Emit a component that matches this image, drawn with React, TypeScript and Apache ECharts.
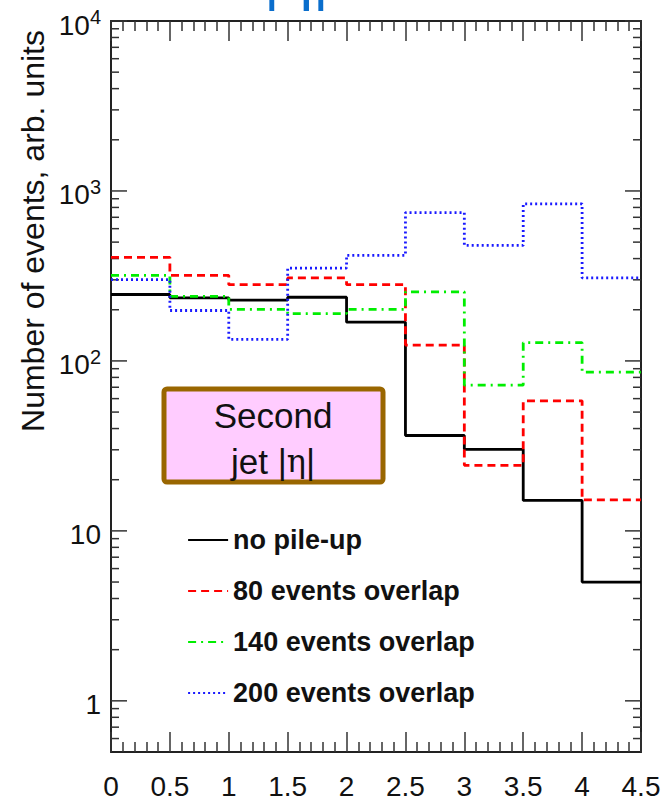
import React, { useEffect, useRef } from "react";
import * as echarts from "echarts";

// ---- data ----
const binEdges = [0, 0.5, 1, 1.5, 2, 2.5, 3, 3.5, 4, 4.5];
const noPileUp = [246, 235, 228, 237, 169, 36.4, 30.2, 15.1, 5.0];
const overlap80 = [407, 319, 281, 308, 281, 124, 24.3, 58.2, 15.2];
const overlap140 = [319, 240, 201, 190, 201, 255, 72, 128, 86];
const overlap200 = [301, 198, 134, 352, 418, 746, 478, 839, 308];
const seriesNames = ["no pile-up", "80 events overlap", "140 events overlap", "200 events overlap"];
const xTickLabels = ["0", "0.5", "1", "1.5", "2", "2.5", "3", "3.5", "4", "4.5"];
const yMajorTicks = [1, 10, 100, 1000, 10000];
const yDecades = [0.1, 1, 10, 100, 1000];
const yMinorMultipliers = [2, 3, 4, 5, 6, 7, 8, 9];

const FONT = "'Liberation Sans', Arial, Helvetica, sans-serif";

function stepData(vals: number[]) {
  const d: number[][] = vals.map((v, i) => [binEdges[i], v]);
  d.push([binEdges[binEdges.length - 1], vals[vals.length - 1]]);
  return d;
}

export default function App() {
  const ref = useRef<HTMLDivElement>(null);
  useEffect(() => {
    document.body.style.margin = "0";
    if (!ref.current) return;
    const chart = echarts.init(ref.current, null, { renderer: "svg" });

    const X_MIN = binEdges[0];
    const X_MAX = binEdges[binEdges.length - 1];
    const tickData: number[][] = [];
    yMajorTicks.forEach((v) => {
      tickData.push([X_MIN, v, 16, 1]);
      tickData.push([X_MAX, v, 16, -1]);
    });
    yDecades.forEach((d) =>
      yMinorMultipliers.forEach((m) => {
        const v = d * m;
        if (v > 0.5 && v < 10000) {
          tickData.push([X_MIN, v, 8, 1]);
          tickData.push([X_MAX, v, 8, -1]);
        }
      })
    );

    const xAxisCommon = {
      type: "value",
      min: 0,
      max: 4.5,
      interval: 0.5,
      axisLine: { show: true, onZero: false, lineStyle: { color: "#222", width: 2 } },
      axisTick: { show: true, inside: true, length: 20, lineStyle: { color: "#333", width: 1.5 } },
      minorTick: { show: true, splitNumber: 5, length: 10, lineStyle: { color: "#333", width: 1.5 } },
      splitLine: { show: false },
      minorSplitLine: { show: false },
    };
    const yAxisCommon = {
      type: "log",
      logBase: 10,
      min: 0.5,
      max: 10000,
      axisLine: { show: true, onZero: false, lineStyle: { color: "#222", width: 2 } },
      axisTick: { show: false },
      splitLine: { show: false },
    };

    const lineSeries = (name: string, vals: number[], color: string, type: any, width: number) => ({
      type: "line",
      name,
      data: stepData(vals),
      step: "end",
      symbol: "none",
      color,
      lineStyle: { color, width, type },
      xAxisIndex: 0,
      yAxisIndex: 0,
    });

    chart.setOption({
      animation: false,
      grid: { left: 111, right: 25, top: 21, bottom: 47, containLabel: false },
      xAxis: [
        {
          ...xAxisCommon,
          position: "bottom",
          axisLabel: {
            show: true,
            margin: 20,
            fontSize: 28,
            fontFamily: FONT,
            color: "#111",
            formatter: (v: number) => {
              const i = binEdges.findIndex((e) => Math.abs(e - v) < 1e-6);
              return i >= 0 ? xTickLabels[i] : "";
            },
          },
        },
        { ...xAxisCommon, position: "top", axisLabel: { show: false } },
      ],
      yAxis: [
        {
          ...yAxisCommon,
          position: "left",
          axisLabel: {
            show: true,
            margin: 10,
            fontSize: 28,
            fontFamily: FONT,
            color: "#111",
            padding: [8, 0, 0, 0],
            formatter: (v: number) => {
              const e = Math.round(Math.log10(v));
              if (Math.abs(Math.log10(v) - e) > 1e-6) return "";
              if (e === 0) return "1";
              if (e === 1) return "10";
              return "10{sup|" + e + "}";
            },
            rich: {
              sup: { fontSize: 20, fontFamily: FONT, color: "#111", verticalAlign: "top", padding: [0, 0, 16, 0] },
            },
          },
        },
        { ...yAxisCommon, position: "right", axisLabel: { show: false } },
      ],
      legend: {
        data: seriesNames,
        orient: "vertical",
        left: 182,
        top: 520,
        itemWidth: 40,
        itemHeight: 14,
        itemGap: 21,
        itemStyle: { opacity: 0, color: "transparent", borderWidth: 0 },
        lineStyle: { width: 2.2 },
        textStyle: { fontSize: 27, fontWeight: "bold", fontFamily: FONT, color: "#111", lineHeight: 30 },
        selectedMode: false,
      },
      series: [
        lineSeries(seriesNames[0], noPileUp, "#000000", "solid", 2.8),
        lineSeries(seriesNames[1], overlap80, "#ff0000", [8, 5], 2.8),
        lineSeries(seriesNames[2], overlap140, "#00ee00", [8, 5, 2, 5], 2.8),
        lineSeries(seriesNames[3], overlap200, "#1a1aff", [2, 3], 2.8),
        {
          type: "custom",
          name: "ticks",
          silent: true,
          clip: false,
          data: tickData,
          encode: { x: 0, y: 1 },
          renderItem: (params: any, api: any) => {
            const p = api.coord([api.value(0), api.value(1)]);
            const len = api.value(2);
            const dir = api.value(3);
            return {
              type: "line",
              shape: { x1: p[0], y1: p[1], x2: p[0] + dir * len, y2: p[1] },
              style: { stroke: "#333", lineWidth: 1.5 },
            };
          },
        },
      ],
      graphic: [
        {
          type: "text",
          x: 33,
          y: 30,
          rotation: Math.PI / 2,
          style: {
            text: "Number of events, arb. units",
            font: "32px " + FONT,
            fill: "#111",
            align: "right",
            verticalAlign: "middle",
            textAlign: "right",
            textVerticalAlign: "middle",
          },
        },
        {
          type: "text",
          x: 264,
          y: 8,
          style: {
            text: "|η|",
            font: "60px " + FONT,
            fill: "#0a6ecc",
            align: "left",
            verticalAlign: "bottom",
            textAlign: "left",
            textVerticalAlign: "bottom",
          },
        },
        {
          type: "rect",
          shape: { x: 164, y: 389, width: 219, height: 93, r: 3 },
          style: { fill: "#ffccff", stroke: "#996600", lineWidth: 5 },
        },
        {
          type: "text",
          x: 273,
          y: 415,
          style: {
            text: "Second",
            font: "35px " + FONT,
            fill: "#111",
            align: "center",
            verticalAlign: "middle",
            textAlign: "center",
            textVerticalAlign: "middle",
          },
        },
        {
          type: "text",
          x: 273,
          y: 461,
          style: {
            text: "jet |{g|η}|",
            font: "35px " + FONT,
            fill: "#111",
            align: "center",
            verticalAlign: "middle",
            textAlign: "center",
            textVerticalAlign: "middle",
            rich: {
              g: { fontFamily: "'DejaVu Serif', 'Liberation Serif', serif", fontSize: 32, fill: "#111" },
            },
          },
        },
      ],
    });
    return () => chart.dispose();
  }, []);
  return <div ref={ref} style={{ width: 666, height: 800 }} />;
}
